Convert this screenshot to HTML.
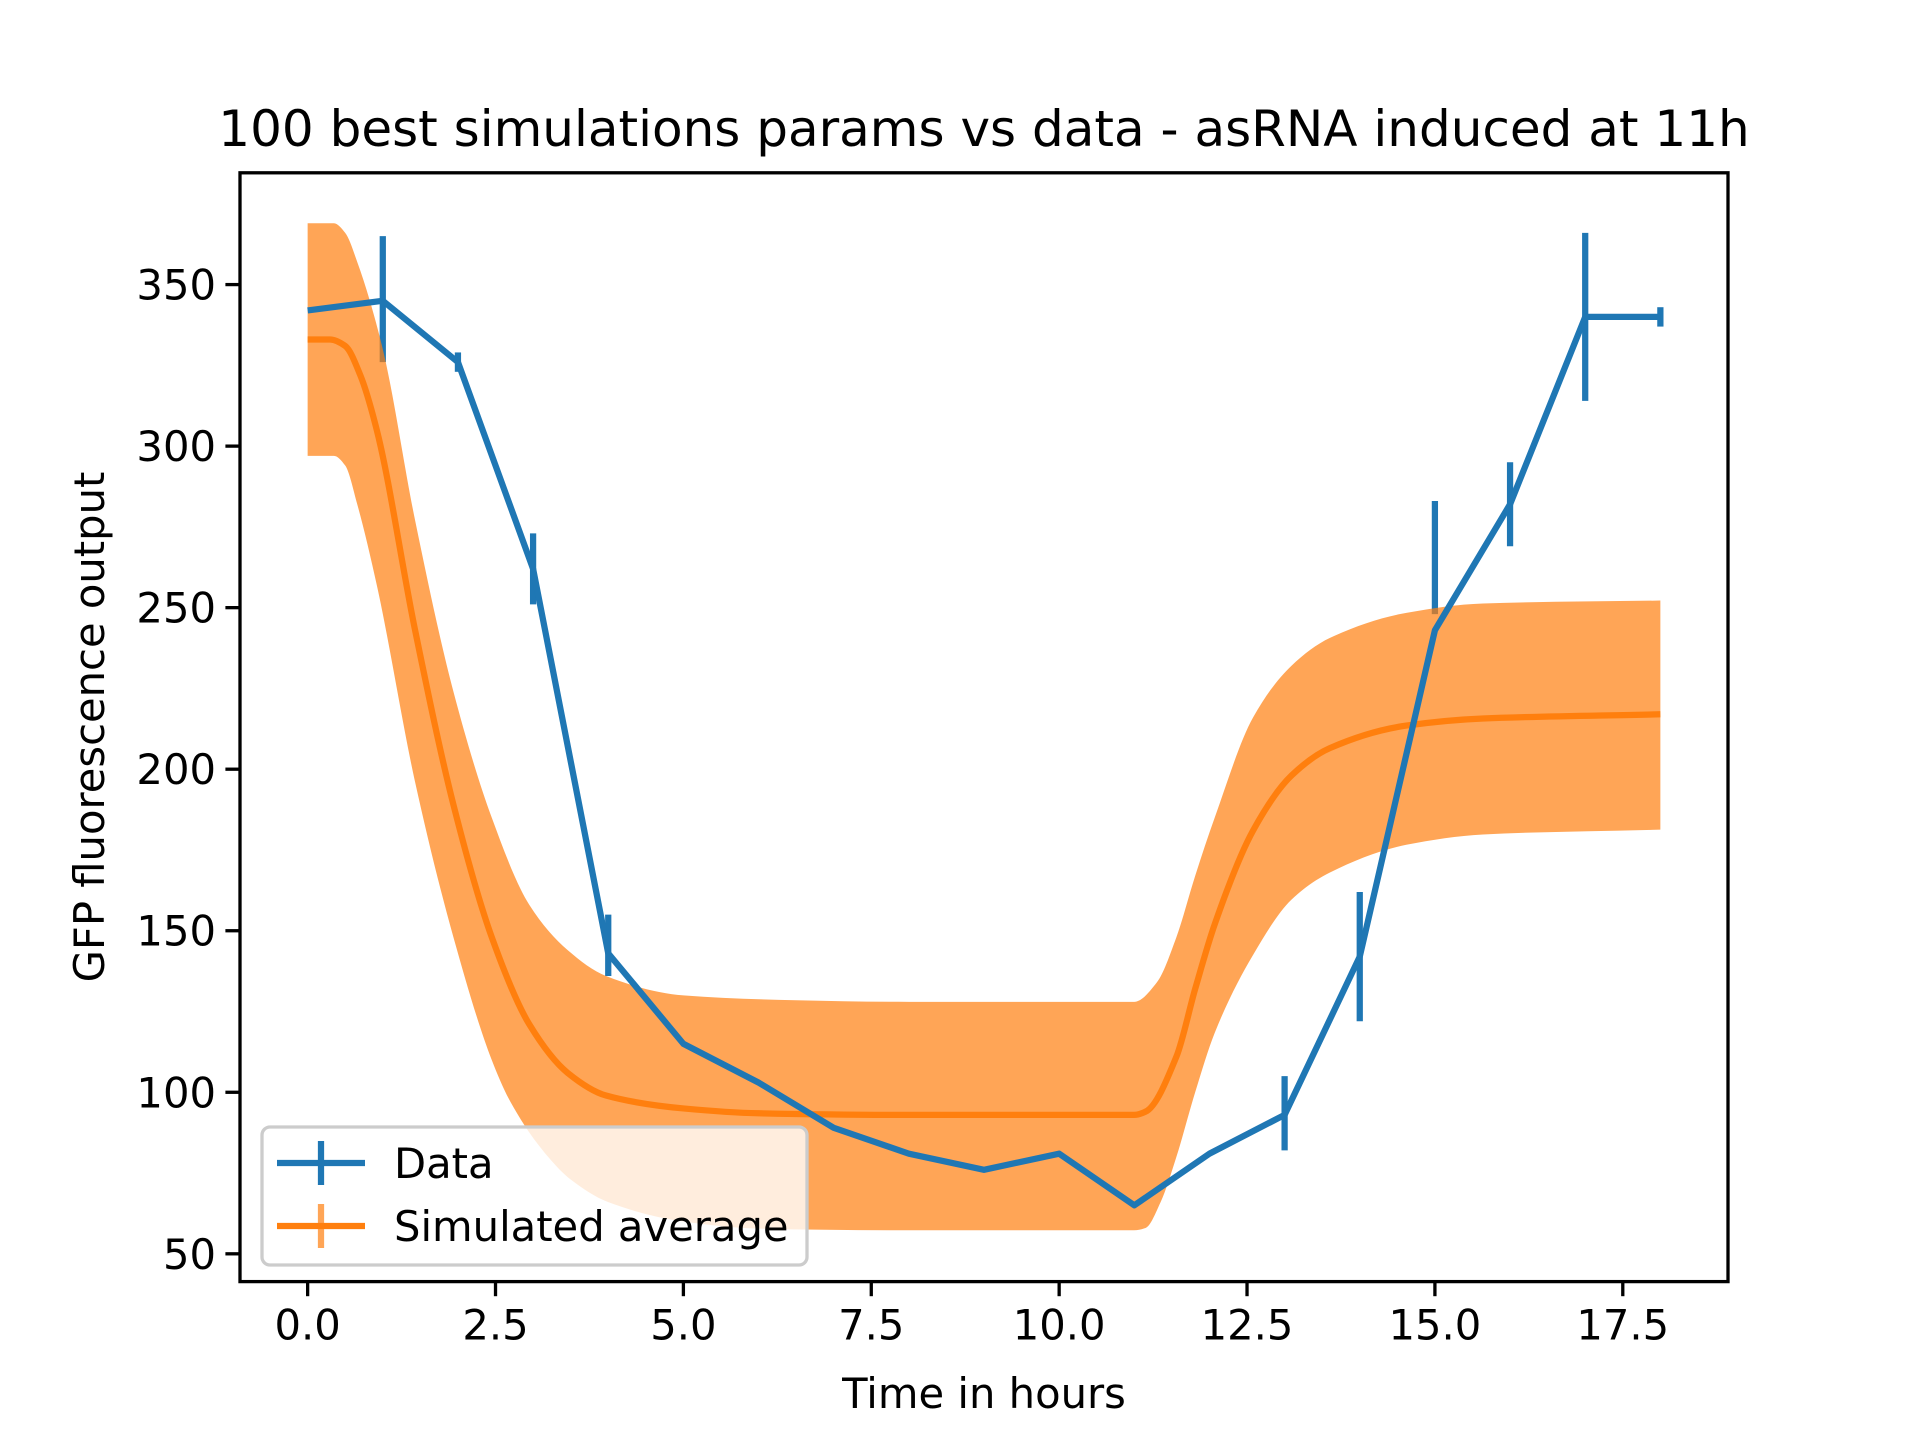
<!DOCTYPE html>
<html><head><meta charset="utf-8"><style>
html,body{margin:0;padding:0;background:#fff}
svg{display:block;font-family:"DejaVu Sans","Liberation Sans",sans-serif}
</style></head><body>
<svg id="chart" width="1920" height="1440" viewBox="0 0 1920 1440">
<rect width="1920" height="1440" fill="#fff"/>
<text x="984" y="146" font-size="50" text-anchor="middle" fill="#000">100 best simulations params vs data - asRNA induced at 11h</text>
<g id="plot"></g>
<text x="984" y="1408" font-size="41.7" text-anchor="middle">Time in hours</text>
<text transform="translate(104,727) rotate(-90)" font-size="41.7" text-anchor="middle">GFP fluorescence output</text>
</svg>
<script>
const dataX=[0,1,2,3,4,5,6,7,8,9,10,11,12,13,14,15,16,17,18];
const dataY=[342,345,326,262,143,115,103,89,81,76,81,65,81,93,142,243,282,340,340];
const errLow=[null,326,323,251,136,null,null,null,null,null,null,null,null,82,122,248,269,314,337];
const errHigh=[null,365,329,273,155,null,null,null,null,null,null,null,null,105,162,283,295,366,343];
const meanX=[0,0.3,0.5,0.7,0.92,1.43,1.94,2.45,2.95,3.46,3.97,5,6,8,11,11.15,11.56,11.81,12.07,12.58,13.09,13.6,14.62,15.64,18];
const meanY=[333,333,331,322,305,243,189,148,121,106,99,95,93.5,93,93,94,111,132,152,181,198,206.5,213.5,215.7,217];
const upperX=[0,0.35,0.5,0.66,1,1.43,1.94,2.45,2.95,3.46,3.97,5,6.5,8,11,11.3,11.56,11.81,12.07,12.58,13.09,13.6,14.62,15.64,18];
const upperY=[369,369,366,357,330,277,224,185,158,144,136,130,128.5,128,128,134,148,167,185,216,232,240.6,248.4,251.3,252.2];
const lowerX=[0,0.35,0.5,0.66,0.92,1.43,1.94,2.45,2.7,3.2,3.5,4,5,6,8,11,11.15,11.35,11.56,11.81,12.07,12.58,13.09,13.6,14.62,15.64,18];
const lowerY=[297,297,294,282,257,196,148,110,97,80,73,66,60,57.8,57.3,57.3,58,66,80,100,118.4,142.5,159.6,168,176.6,179.8,181.3];
const xTicks=[0,2.5,5,7.5,10,12.5,15,17.5];
const xTickLabels=["0.0","2.5","5.0","7.5","10.0","12.5","15.0","17.5"];
const yTicks=[50,100,150,200,250,300,350];
const yTickLabels=["50","100","150","200","250","300","350"];

const L=240,R=1728,T=172.8,B=1281.6;
const X0=-0.9,X1=18.9,Y0=41.4,Y1=384.6;
const sx=v=>L+(v-X0)/(X1-X0)*(R-L);
const sy=v=>B-(v-Y0)/(Y1-Y0)*(B-T);
const NS="http://www.w3.org/2000/svg";
const g=document.getElementById('plot');
function mk(tag,attrs,parent){const e=document.createElementNS(NS,tag);for(const k in attrs)e.setAttribute(k,attrs[k]);(parent||g).appendChild(e);return e;}
function monoSegs(xs,ys){
  const px=xs.map(sx),py=ys.map(sy),n=px.length;
  const d=[],m=new Array(n);
  for(let i=0;i<n-1;i++)d.push((py[i+1]-py[i])/(px[i+1]-px[i]));
  m[0]=d[0];m[n-1]=d[n-2];
  for(let i=1;i<n-1;i++){
    if(d[i-1]*d[i]<=0)m[i]=0;
    else{const h0=px[i]-px[i-1],h1=px[i+1]-px[i];const w1=2*h1+h0,w2=h1+2*h0;m[i]=(w1+w2)/(w1/d[i-1]+w2/d[i]);}
  }
  const segs=[];
  for(let i=0;i<n-1;i++){
    const h=(px[i+1]-px[i])/3;
    segs.push([px[i],py[i],px[i]+h,py[i]+m[i]*h,px[i+1]-h,py[i+1]-m[i+1]*h,px[i+1],py[i+1]]);
  }
  return segs;
}
function pathFwd(xs,ys){const s=monoSegs(xs,ys);let p="M"+s[0][0]+","+s[0][1];s.forEach(q=>{p+=" C"+q[2]+","+q[3]+" "+q[4]+","+q[5]+" "+q[6]+","+q[7];});return p;}
function pathRev(xs,ys){const s=monoSegs(xs,ys).reverse();let p=" L"+s[0][6]+","+s[0][7];s.forEach(q=>{p+=" C"+q[4]+","+q[5]+" "+q[2]+","+q[3]+" "+q[0]+","+q[1];});return p;}
dataX.forEach((x,i)=>{
  if(errLow[i]===null)return;
  const e=mk('line',{x1:sx(x),x2:sx(x),y1:sy(errLow[i]),y2:sy(errHigh[i]),stroke:'#1f77b4','stroke-width':6.25});
  
  
});
const band=mk('path',{d:pathFwd(upperX,upperY)+pathRev(lowerX,lowerY)+" Z",fill:'#ff7f0e','fill-opacity':0.7});


const mean=mk('path',{d:pathFwd(meanX,meanY),fill:'none',stroke:'#ff7f0e','stroke-width':6.25});


const dl=mk('polyline',{points:dataX.map((x,i)=>sx(x)+","+sy(dataY[i])).join(" "),fill:'none',stroke:'#1f77b4','stroke-width':6.25,'stroke-linejoin':'round'});


const fr=mk('rect',{x:L,y:T,width:R-L,height:B-T,fill:'none',stroke:'#000','stroke-width':3.3});


xTicks.forEach((t,i)=>{
  const tk=mk('line',{x1:sx(t),x2:sx(t),y1:B,y2:B+14.6,stroke:'#000','stroke-width':3.3});
  
  
  const tl=mk('text',{x:sx(t),y:B+58,'font-size':41.7,'text-anchor':'middle'});
  tl.textContent=xTickLabels[i];
  
  
});
yTicks.forEach((t,i)=>{
  const tk=mk('line',{x1:L-14.6,x2:L,y1:sy(t),y2:sy(t),stroke:'#000','stroke-width':3.3});
  
  
  const tl=mk('text',{x:L-24,y:sy(t)+15,'font-size':41.7,'text-anchor':'end'});
  tl.textContent=yTickLabels[i];
  
  
});
const lg=mk('g',{});


mk('rect',{x:262,y:1127,width:545,height:138,rx:8,fill:'#fff','fill-opacity':0.8,stroke:'#cccccc','stroke-width':3.3},lg);
const entries=[["Data","#1f77b4",1163],["Simulated average","#ff7f0e",1226]];
entries.forEach(([lab,c,y])=>{
  const eg=mk('g',{},lg);
  
  
  mk('line',{x1:277,x2:365,y1:y,y2:y,stroke:c,'stroke-width':6.25},eg);
  mk('line',{x1:321,x2:321,y1:y-22,y2:y+22,stroke:c,'stroke-width':6.25,'stroke-opacity':c=="#ff7f0e"?0.7:1},eg);
  const t=mk('text',{x:394,y:y+15,'font-size':41.7},eg);
  t.textContent=lab;
});
</script>
</body></html>
